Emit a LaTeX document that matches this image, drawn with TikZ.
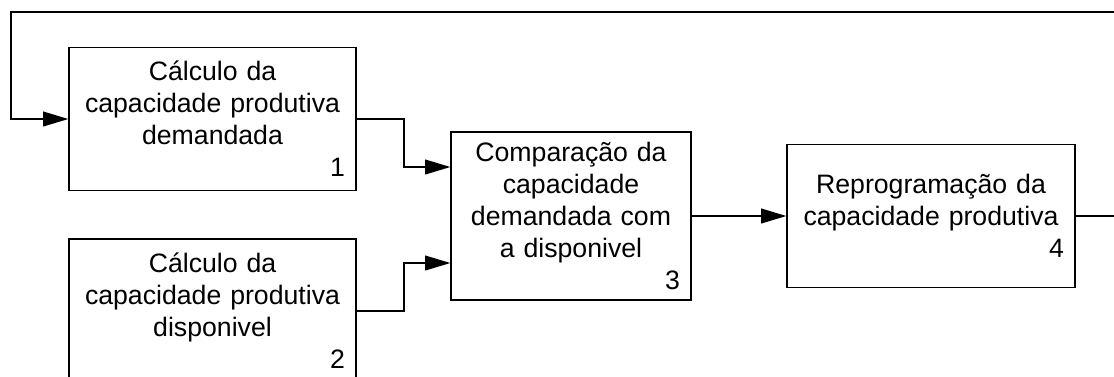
\documentclass[tikz,border=0pt]{standalone}
\usepackage{fontspec}
\setmainfont{Liberation Sans}
\usetikzlibrary{arrows.meta,calc}

\newcommand{\boxnum}[1]{\\\hspace*{0pt plus 1filll}#1}

\begin{document}
\begin{tikzpicture}[
        x=0.75pt, y=-0.75pt,
        block/.style={rectangle, draw, line width=0.9pt, align=center,
          inner xsep=8.25pt, inner ysep=0pt, font=\fontsize{20}{24}\selectfont},
        flow/.style={line width=1.5pt, -{Triangle[length=19pt, width=11pt]}}
      ]
      \useasboundingbox (0,0) rectangle (1114,376);
      \coordinate (back) at (11,12);

      \node[block, text width=198.75pt, minimum height=107.25pt] (calcdem) at (212.5,119)
        {Cálculo da\\capacidade produtiva\\demandada\boxnum{1}};
      \node[block, text width=198.75pt, minimum height=107.25pt] (calcdisp) at (212.5,310.5)
        {Cálculo da\\capacidade produtiva\\disponivel\boxnum{2}};
      \node[block, text width=163.5pt, minimum height=126pt] (compara) at (571,216)
        {Comparação da\\capacidade\\demandada com\\a disponivel\boxnum{3}};
      \node[block, text width=199.5pt, minimum height=107.25pt] (reprog) at (931,216)
        {Reprogramação da\\capacidade produtiva\boxnum{4}};

      \draw[flow] (calcdem.east) -- ++(47,0) |- ($(compara.west)+(0,-49)$);
      \draw[flow] (calcdisp.east) -- ++(47,0) |- ($(compara.west)+(0,47)$);
      \draw[flow] (compara.east) -- (reprog.west);
      \draw[flow] (reprog.east) -- ++(60,0) |- (back) |- (calcdem.west);
    \end{tikzpicture}
\end{document}
